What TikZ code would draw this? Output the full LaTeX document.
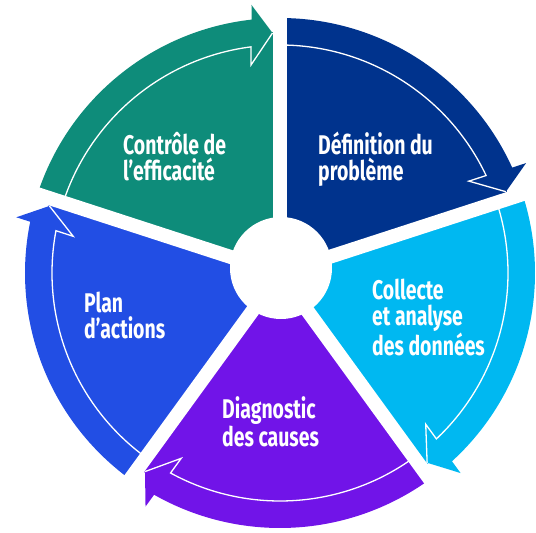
\documentclass[tikz,border=0pt]{standalone}
\usepackage{fontspec}
\newfontfamily\labfont{Fira Sans}[FakeStretch=0.72]
\definecolor{cteal}{HTML}{0E8C7A}
\definecolor{cnavy}{HTML}{00338D}
\definecolor{ccyan}{HTML}{00B8F1}
\definecolor{cpurple}{HTML}{7114E8}
\definecolor{croyal}{HTML}{224EE4}
\newcommand\cyclesegment[2]{%
  \begin{scope}[rotate=#1]
    \fill[#2] (0,0) -- (90:241) arc[start angle=90,end angle=162,radius=241] -- cycle;
    \fill[#2] (162:255) arc[start angle=162,end angle=96.41,radius=255]
      -- (-28.5,268) -- (-7.5,240) -- (-29,208) -- (97.31:228)
      arc[start angle=97.31,end angle=162,radius=228] -- cycle;
    \draw[wline] (162:228) arc[start angle=162,end angle=97.31,radius=228]
      -- (-29,208) -- (-7.5,240);
  \end{scope}}
\begin{document}
\begin{tikzpicture}[x=1pt,y=1pt,
  lbl/.style={text=white,font=\labfont\bfseries\fontsize{27}{26}\selectfont,
    align=left,anchor=base west,inner sep=0pt},
  wline/.style={draw=white,line width=1.3pt,line join=miter}]
\useasboundingbox (-280,-260) rectangle (256,273);
\cyclesegment{0}{cteal}
\cyclesegment{-72}{cnavy}
\cyclesegment{-144}{ccyan}
\cyclesegment{-216}{cpurple}
\cyclesegment{72}{croyal}
\foreach \a in {90,18,-54,-126,162}
  \fill[white,rotate=\a] (0,-7) rectangle (300,7);
\coordinate (hub) at (1,5);
\fill[white] (hub) circle (51);
\node[lbl] (t1) at (-157,92) {Contrôle de\\l’efficacité};
\node[lbl] (t2) at (38,92) {Définition du\\problème};
\node[lbl] (t3) at (92,-82) {Collecte\\et analyse\\des données};
\node[lbl] (t4) at (-58,-173) {Diagnostic\\des causes};
\node[lbl] (t5) at (-196,-66) {Plan\\d’actions};
\end{tikzpicture}
\end{document}
